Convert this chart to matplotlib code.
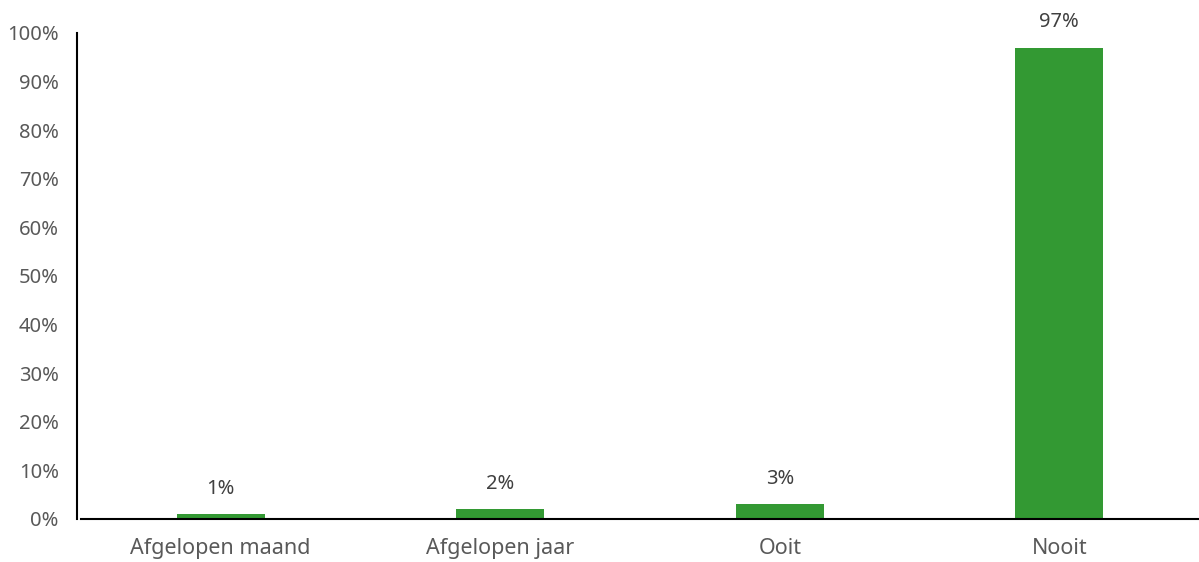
import matplotlib.pyplot as plt
import numpy as np

categories = ['Afgelopen maand', 'Afgelopen jaar', 'Ooit', 'Nooit']
values = [1, 2, 3, 97]
yticks = [0, 10, 20, 30, 40, 50, 60, 70, 80, 90, 100]

plt.rcParams['font.family'] = ['Noto Sans', 'DejaVu Sans']

fig = plt.figure(figsize=(11.99, 5.62), dpi=100)
ax = fig.add_axes([81/1199, 1 - 519/562, (1199 - 81)/1199, (519 - 33)/562])

x = np.arange(len(categories))
bars = ax.bar(x, values, width=0.315, color='#339933')
for xi, v in zip(x, values):
    ax.text(xi, v + 3.2, '%d%%' % v, ha='center', va='bottom', fontsize=14.5, color='#404040')

ax.set_xlim(-0.5, 3.5)
ax.set_ylim(0, 100)
ax.set_yticks(yticks)
ax.set_yticklabels(['%d%%' % t for t in yticks])
ax.set_xticks(x)
ax.set_xticklabels(categories, fontsize=15.5)
ax.tick_params(axis='both', length=0, labelsize=14.5, colors='#595959')
ax.tick_params(axis='x', pad=14, labelsize=15.5)
ax.tick_params(axis='y', pad=13)
for s in ['top', 'right']:
    ax.spines[s].set_visible(False)
ax.spines['left'].set_color('black')
ax.spines['bottom'].set_color('black')
ax.spines['left'].set_linewidth(1.5)
ax.spines['bottom'].set_linewidth(1.5)
ax.spines['left'].set_position(('outward', 3))

plt.savefig('out.png', dpi=100)
